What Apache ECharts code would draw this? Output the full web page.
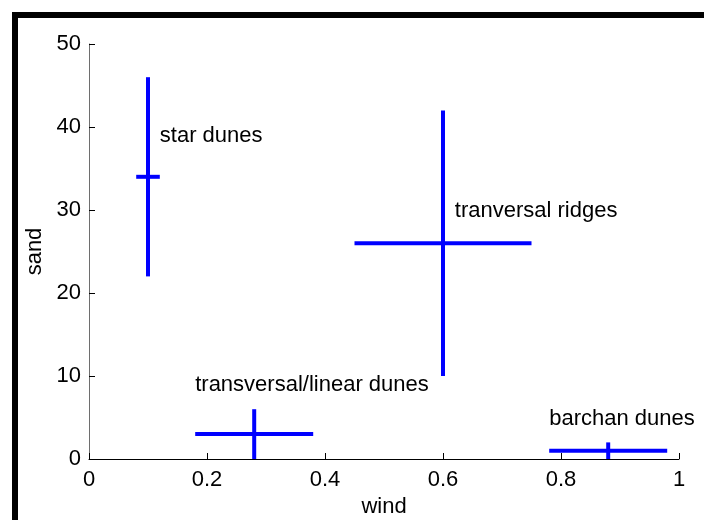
<!DOCTYPE html>
<html>
<head>
<meta charset="utf-8">
<script src="https://cdn.jsdelivr.net/npm/echarts@6/dist/echarts.min.js"></script>
<style>
  html, body { margin: 0; padding: 0; background: #fff; }
  #chart { width: 704px; height: 520px; }
</style>
</head>
<body>
<div id="chart"></div>
<script>
// Dune types in a wind / sand-supply space, with ranges as crosses
const dunes    = ['star dunes', 'tranversal ridges', 'transversal/linear dunes', 'barchan dunes'];
const windMid  = [0.10, 0.60, 0.28, 0.88];
const windLo   = [0.08, 0.45, 0.18, 0.78];
const windHi   = [0.12, 0.75, 0.38, 0.98];
const sandMid  = [34, 26, 3, 1];
const sandLo   = [22, 10, 0, 0];
const sandHi   = [46, 42, 6, 2];
// anchor points of the text annotations (left edge, vertical middle)
const labelWind = [0.12, 0.62, 0.18, 0.78];
const labelSand = [39, 30, 9, 5];

const xTicks = [0, 0.2, 0.4, 0.6, 0.8, 1];
const yTicks = [0, 10, 20, 30, 40, 50];

const FONT = '"Liberation Sans", Arial, Helvetica, sans-serif';
const FS = 22;

const crossRows = dunes.map((d, i) => [windMid[i], sandMid[i], windLo[i], windHi[i], sandLo[i], sandHi[i]]);
const labelRows = dunes.map((d, i) => [labelWind[i], labelSand[i], i]);

const chart = echarts.init(document.getElementById('chart'), null, { renderer: 'canvas' });

chart.setOption({
  animation: false,
  backgroundColor: '#fff',
  textStyle: { fontFamily: FONT },
  grid: { left: 89, right: 25, top: 44, bottom: 61, containLabel: false, outerBoundsMode: 'none' },
  xAxis: {
    type: 'value',
    min: xTicks[0], max: xTicks[xTicks.length - 1], interval: 0.2,
    name: 'wind', nameLocation: 'middle', nameGap: 27,
    nameTextStyle: { color: '#000', fontSize: FS, fontFamily: FONT },
    axisLine: { show: true, onZero: false, lineStyle: { color: '#000', width: 1 } },
    axisTick: { show: true, inside: true, length: 6, lineStyle: { color: '#000' } },
    axisLabel: { color: '#000', fontSize: FS, fontFamily: FONT, margin: 10,
      formatter: v => String(+(+v).toFixed(2)) },
    splitLine: { show: false }
  },
  yAxis: {
    type: 'value',
    min: yTicks[0], max: yTicks[yTicks.length - 1], interval: 10,
    name: 'sand', nameLocation: 'middle', nameGap: 34,
    nameTextStyle: { color: '#000', fontSize: FS, fontFamily: FONT },
    axisLine: { show: true, onZero: false, lineStyle: { color: '#6e6e6e', width: 1 } },
    axisTick: { show: true, inside: true, length: 6, lineStyle: { color: '#000' } },
    axisLabel: { color: '#000', fontSize: FS, fontFamily: FONT, margin: 8 },
    splitLine: { show: false }
  },
  graphic: [
    { type: 'rect', left: 12, top: 12, shape: { width: 692, height: 6 }, style: { fill: '#000' }, z: 100 },
    { type: 'rect', left: 12, top: 12, shape: { width: 6, height: 508 }, style: { fill: '#000' }, z: 100 }
  ],
  series: [
    {
      type: 'custom',
      coordinateSystem: 'cartesian2d',
      data: crossRows,
      clip: false,
      renderItem: function (params, api) {
        const xm = api.value(0), ym = api.value(1);
        const a = api.coord([api.value(2), ym]);
        const b = api.coord([api.value(3), ym]);
        const c = api.coord([xm, api.value(4)]);
        const d = api.coord([xm, api.value(5)]);
        const st = { stroke: '#0000ff', lineWidth: 4, fill: null };
        return {
          type: 'group',
          children: [
            { type: 'line', shape: { x1: a[0], y1: a[1], x2: b[0], y2: b[1] }, style: st },
            { type: 'line', shape: { x1: c[0], y1: c[1], x2: d[0], y2: d[1] }, style: st }
          ]
        };
      }
    },
    {
      type: 'custom',
      coordinateSystem: 'cartesian2d',
      data: labelRows,
      clip: false,
      renderItem: function (params, api) {
        const p = api.coord([api.value(0), api.value(1)]);
        return {
          type: 'text',
          x: p[0], y: p[1] + 1,
          style: {
            text: dunes[api.value(2)],
            fill: '#000',
            font: FS + 'px ' + FONT,
            align: 'left',
            verticalAlign: 'middle'
          }
        };
      }
    }
  ]
});
</script>
</body>
</html>
